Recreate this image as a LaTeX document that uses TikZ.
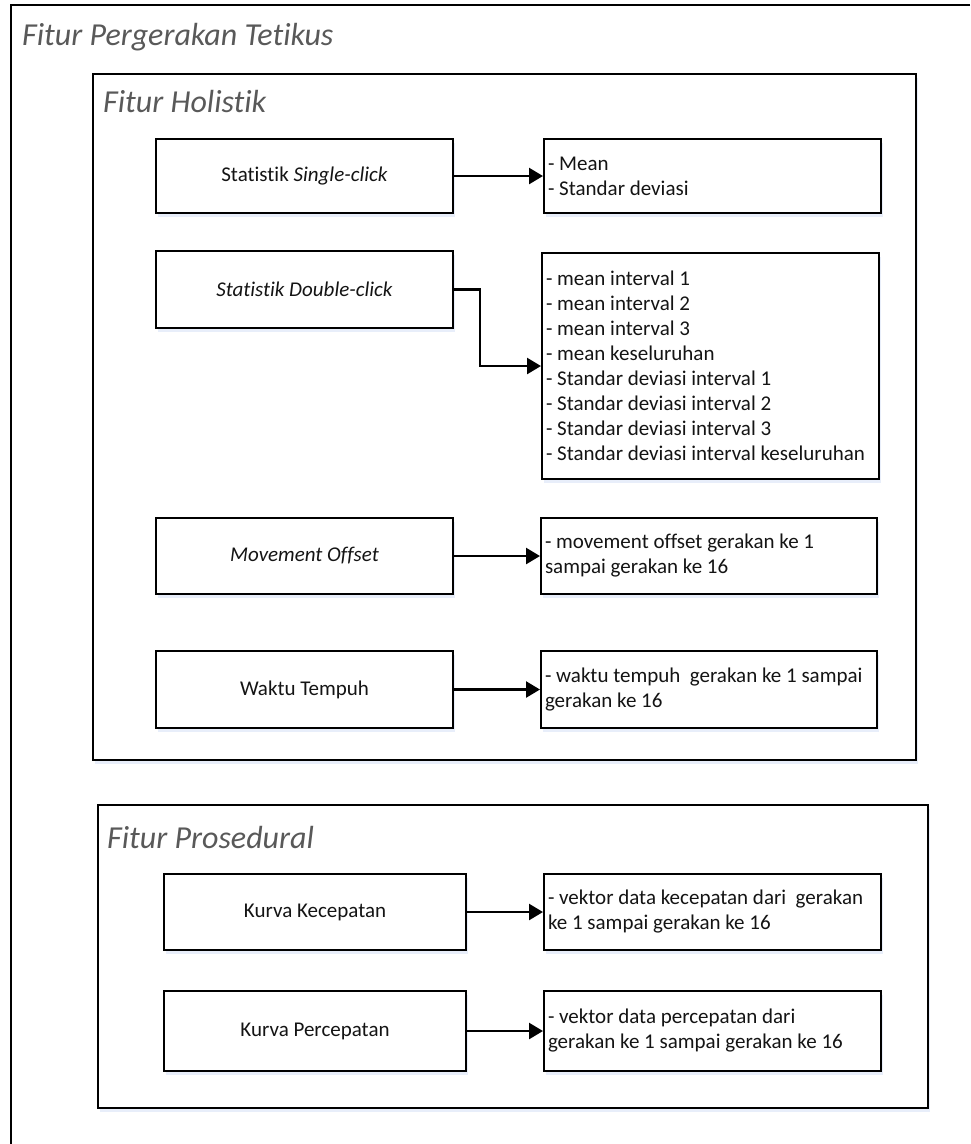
\documentclass[tikz,border=0pt]{standalone}
\usepackage{fontspec}
\setmainfont{Carlito}[Ligatures=NoCommon]
\usetikzlibrary{arrows.meta,shadows}
\definecolor{headgray}{RGB}{89,89,89}
\definecolor{txtdark}{RGB}{20,20,20}
\definecolor{shadowblue}{RGB}{232,238,250}
\begin{document}
\begin{tikzpicture}[x=1pt,y=-1pt,
  frame/.style={draw=black, line width=2pt, fill=white, anchor=north west,
    drop shadow={shadow xshift=2pt, shadow yshift=-4pt, fill=shadowblue, opacity=1}},
  box/.style={frame, text=txtdark, align=center, inner sep=0pt,
    font={\fontsize{21pt}{25pt}\selectfont}},
  listbox/.style={frame, text=txtdark, align=flush left, inner xsep=4pt, inner ysep=0pt,
    font={\fontsize{21pt}{25pt}\selectfont\hyphenpenalty=10000}},
  heading/.style={text=headgray, anchor=base west, inner sep=0pt,
    font={\fontsize{32pt}{36pt}\selectfont\itshape}},
  arr/.style={line width=2.5pt, -{Triangle[length=14pt,width=16pt]}}
]
\useasboundingbox (0,0) rectangle (970,1144);
\fill[white] (0,0) rectangle (970,1144);

% outer frame (continues beyond the picture)
\draw[line width=2pt] (970,5) -- (11,5) -- (11,1144);
\node[heading] (tOuter) at (22,45) {Fitur Pergerakan Tetikus};

% Holistik
\node[frame, minimum width=823pt, minimum height=686pt] (hol) at (92,73) {};
\node[heading] (tHol) at (103,112) {Fitur Holistik};

\node[box, minimum width=297pt, minimum height=74pt] (s1) at (155,138) {Statistik \textit{Single-click}};
\node[listbox, text width=329pt, minimum height=74pt] (s1r) at (543,138) {- Mean\\- Standar deviasi};

\node[box, minimum width=297pt, minimum height=77pt] (d1) at (155,250) {\textit{Statistik Double-click}};
\node[listbox, text width=329pt, minimum height=226pt] (d1r) at (541,252)
  {- mean interval 1\\- mean interval 2\\- mean interval 3\\- mean keseluruhan\\- Standar deviasi interval 1\\- Standar deviasi interval 2\\- Standar deviasi interval 3\\- Standar deviasi interval keseluruhan};

\node[box, minimum width=297pt, minimum height=76pt] (m1) at (155,517) {\textit{Movement Offset}};
\node[listbox, text width=328pt, minimum height=76pt] (m1r) at (540,517) {- movement offset gerakan ke 1\\sampai gerakan ke 16};

\node[box, minimum width=297pt, minimum height=77pt] (w1) at (155,650) {Waktu Tempuh};
\node[listbox, text width=328pt, minimum height=77pt] (w1r) at (540,650) {- waktu tempuh~ gerakan ke 1 sampai\\gerakan ke 16};

% Prosedural
\node[frame, minimum width=830pt, minimum height=303pt] (pro) at (97,804) {};
\node[heading] (tPro) at (107,848) {Fitur Prosedural};

\node[box, minimum width=302pt, minimum height=76pt] (k1) at (163,873) {Kurva Kecepatan};
\node[listbox, text width=329pt, minimum height=76pt] (k1r) at (543,873) {- vektor data kecepatan dari~ gerakan\\ke 1 sampai gerakan ke 16};

\node[box, minimum width=302pt, minimum height=80pt] (p1) at (163,990) {Kurva Percepatan};
\node[listbox, text width=329pt, minimum height=80pt] (p1r) at (543,990) {- vektor data percepatan dari\\gerakan ke 1 sampai gerakan ke 16};

% connectors
\draw[arr] (s1.east) -- (s1r.west);
\draw[arr] (d1.east) -- ++(26,0) |- (d1r.west);
\draw[arr] (m1.east) -- (m1r.west);
\draw[arr] (w1.east) -- (w1r.west);
\draw[arr] (k1.east) -- (k1r.west);
\draw[arr] (p1.east) -- (p1r.west);
\end{tikzpicture}
\end{document}
